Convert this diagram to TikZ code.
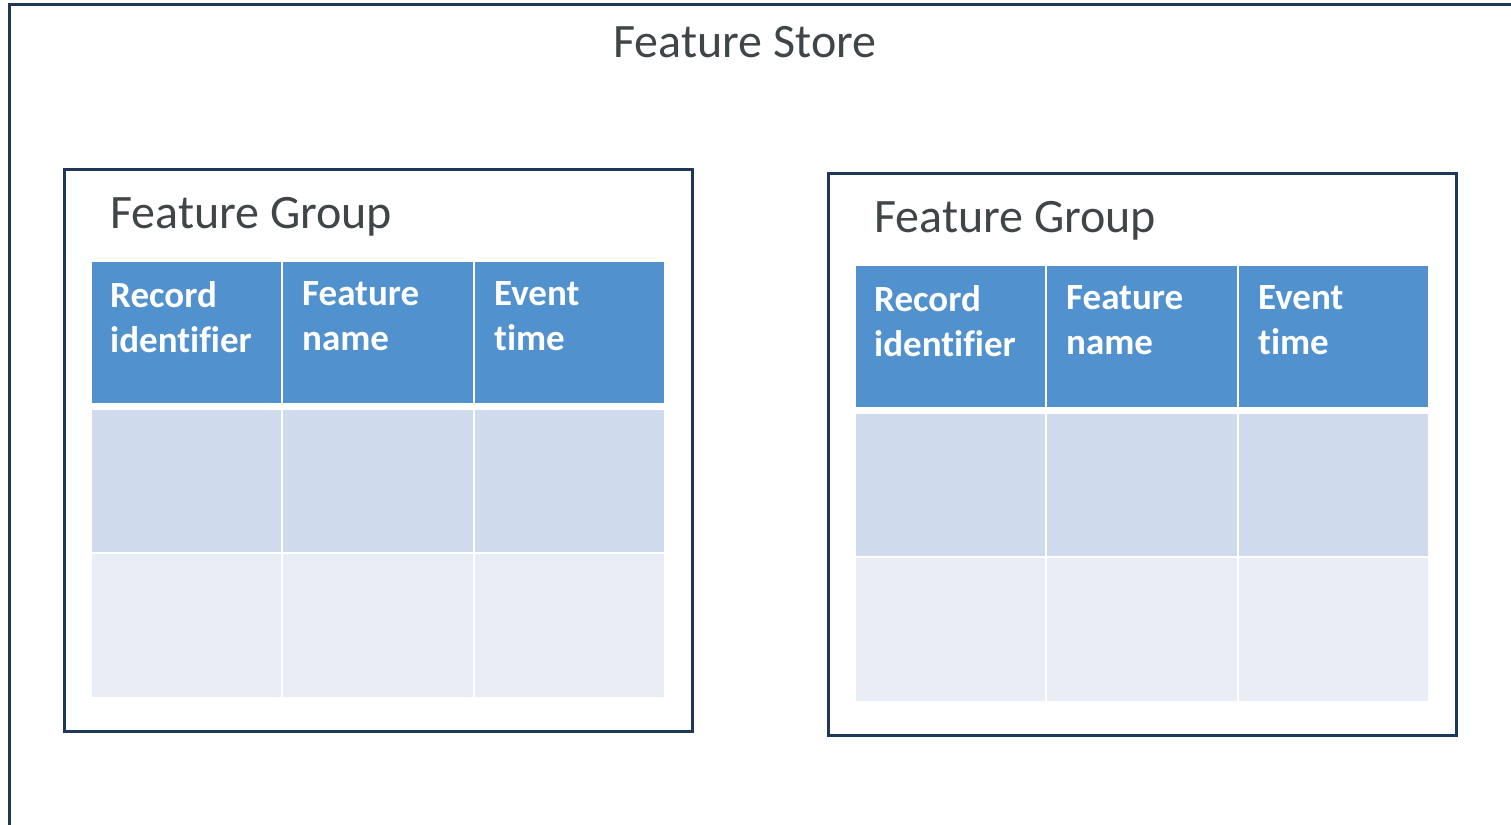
\documentclass[tikz,border=0pt]{standalone}
\usepackage{fontspec}
\setmainfont[Ligatures={NoCommon}]{Carlito}
\definecolor{frame}{RGB}{32,56,88}
\definecolor{hdr}{RGB}{80,145,206}
\definecolor{rowa}{RGB}{207,219,236}
\definecolor{rowb}{RGB}{233,237,246}
\definecolor{ttl}{RGB}{64,70,72}
\tikzset{
  framebox/.style={draw=frame,line width=3pt},
  title/.style={text=ttl,font=\fontsize{48}{54}\selectfont,inner sep=0pt},
  hdrtext/.style={text=white,font=\fontsize{37}{45}\selectfont\bfseries,inner sep=0pt,align=left,anchor=north west},
}
\begin{document}
\begin{tikzpicture}[x=1pt,y=-1pt]
\useasboundingbox (0,0) rectangle (1511,824);
\fill[white] (0,0) rectangle (1511,824);
\draw[framebox] (9,840) -- (9,4.5) -- (1530,4.5);
\node[title,anchor=base] (store) at (745,58) {Feature Store};
\foreach \dx/\dy/\n in {0/0/L,764/4/R}{
  \begin{scope}[shift={(\dx,\dy)}]
    \draw[framebox] (64,169) rectangle (692,731);
    \node[title,anchor=base west] (fg\n) at (110,228) {Feature Group};
    \foreach \x/\w in {92/281,283/473,475/664}{
      \fill[hdr] (\x,262) rectangle (\w,403);
      \fill[rowa] (\x,410) rectangle (\w,552);
      \fill[rowb] (\x,554) rectangle (\w,697);
    }
    \node[hdrtext] (rid\n) at (110,281) {Record\\identifier};
    \node[hdrtext] (fn\n) at (302,281) {Feature\\name};
    \node[hdrtext] (et\n) at (494,281) {Event\\time};
  \end{scope}
}
\end{tikzpicture}
\end{document}
